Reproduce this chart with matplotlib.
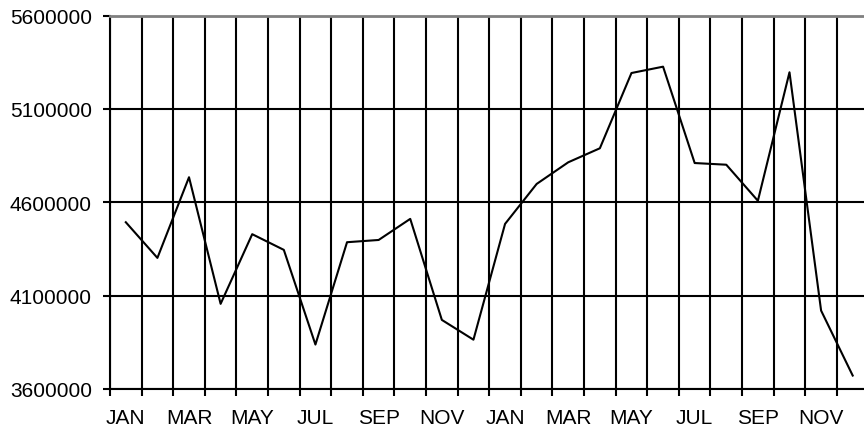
import numpy as np
import matplotlib.pyplot as plt
from matplotlib.ticker import FixedLocator

plt.rcParams['font.family'] = ['Liberation Sans', 'DejaVu Sans']

months = ["JAN", "FEB", "MAR", "APR", "MAY", "JUN",
          "JUL", "AUG", "SEP", "OCT", "NOV", "DEC"] * 2
values = [4493000, 4302000, 4734000, 4056000, 4429000, 4345000,
          3838000, 4386000, 4398000, 4511000, 3970000, 3864000,
          4484000, 4698000, 4814000, 4889000, 5292000, 5326000,
          4810000, 4801000, 4608000, 5296000, 4020000, 3672000]
y_ticks = [3600000, 4100000, 4600000, 5100000, 5600000]

x = np.arange(len(values))

fig = plt.figure(figsize=(8.64, 4.35), dpi=100)
ax = fig.add_axes([110 / 864, 1 - 390 / 435, 758.5 / 864, (390 - 16.5) / 435])

ax.plot(x, values, color="black", linewidth=1.5, zorder=3)

ax.set_xlim(-0.5, len(values) - 0.5)
ax.set_ylim(y_ticks[0], y_ticks[-1])

# labels at every other month centre, tick marks on the boundaries
ax.set_xticks(x[::2])
ax.set_xticklabels(months[::2])
ax.xaxis.set_minor_locator(FixedLocator(np.arange(-0.5, len(values), 1.0)))
ax.tick_params(axis="x", which="major", length=0, pad=14, labelsize=15)
ax.tick_params(axis="x", which="minor", length=5, width=1.5, direction="out")
ax.set_yticks(y_ticks)
ax.set_yticklabels([str(v) for v in y_ticks])
ax.tick_params(axis="y", length=5, width=1.5, direction="out", labelsize=15, pad=8)

ax.grid(True, which="minor", axis="x", color="black", linewidth=1.5)
ax.grid(True, which="major", axis="y", color="black", linewidth=1.5)

ax.spines["right"].set_visible(False)
ax.spines["top"].set_color("#808080")
ax.spines["top"].set_linewidth(2)
ax.spines["left"].set_linewidth(1.5)
ax.spines["bottom"].set_linewidth(1.5)

fig.savefig("out.png", dpi=100)
